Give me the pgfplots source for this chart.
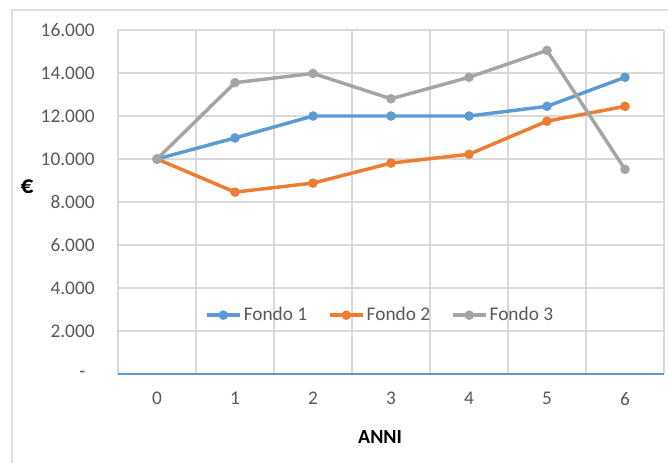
\documentclass[border=0pt]{standalone}
\usepackage{fontspec}
\setmainfont{Carlito}
\usepackage{pgfplots}
\pgfplotsset{compat=1.18}
\definecolor{c1}{HTML}{5B9BD5}
\definecolor{c2}{HTML}{ED7D31}
\definecolor{c3}{HTML}{A5A5A5}
\definecolor{txt}{HTML}{595959}
\definecolor{gridc}{HTML}{D9D9D9}
\begin{document}
\begin{tikzpicture}
\useasboundingbox (-88.5pt,-66pt) rectangle (412.5pt,280.5pt);
\draw[gray!25, line width=0.8pt] (-79.5pt,-70pt) -- (-79.5pt,273pt) -- (420pt,273pt);
\begin{axis}[
  scale only axis,
  width=409.5pt, height=258pt,
  xmin=-0.5, xmax=6.5, ymin=0, ymax=16000,
  scaled y ticks=false,
  xtick={0,...,6},
  minor xtick={-0.5,0.5,...,6.5},
  xminorgrids, ymajorgrids,
  ytick={0,2000,...,16000},
  yticklabels={\makebox[20pt][r]{-\kern7pt},2.000,4.000,6.000,8.000,10.000,12.000,14.000,16.000},
  major tick length=0pt, minor tick length=0pt,
  grid style={gridc, line width=0.8pt},
  minor grid style={gridc, line width=0.8pt},
  axis x line*=bottom, axis y line*=left,
  x axis line style={c1, line width=0.8pt, -},
  y axis line style={draw=none},
  tick label style={font=\fontsize{14.5}{17}\selectfont, text=txt},
  /pgf/number format/assume math mode=true,
  xticklabel style={yshift=-10pt},
  yticklabel style={xshift=-14pt},
  xlabel={\textbf{ANNI}},
  xlabel style={at={(axis description cs:0.48,-0.183)}, anchor=center, font=\fontsize{15}{18}\selectfont},
  ylabel={\textbf{€}},
  ylabel style={rotate=-90, at={(axis description cs:-0.1667,0.5436)}, anchor=center, font=\fontsize{19}{22}\selectfont},
  legend style={at={(axis description cs:0.48,0.171)}, anchor=center, draw=none, fill=none,
    font=\fontsize{14.5}{17}\selectfont, text=txt, legend columns=3,
    nodes={inner xsep=1.5pt},
    /tikz/every even column/.append style={column sep=14pt}},
  legend image code/.code={
    \draw[#1, mark repeat=2, mark phase=2] plot coordinates {(0pt,0pt) (12.5pt,0pt) (25pt,0pt)};
  },
  every axis plot/.append style={line width=2.6pt, mark=*, mark size=2.2pt, mark options={solid}},
]
\addplot[c1, mark options={fill=c1, draw=c1}] coordinates {(0,10000) (1,10980) (2,12000) (3,12000) (4,12000) (5,12450) (6,13800)};
\addplot[c2, mark options={fill=c2, draw=c2}] coordinates {(0,10000) (1,8460) (2,8880) (3,9810) (4,10220) (5,11760) (6,12450)};
\addplot[c3, mark options={fill=c3, draw=c3}] coordinates {(0,10000) (1,13550) (2,13980) (3,12800) (4,13800) (5,15050) (6,9520)};
\legend{Fondo 1, Fondo 2, Fondo 3}
\end{axis}
\end{tikzpicture}
\end{document}
